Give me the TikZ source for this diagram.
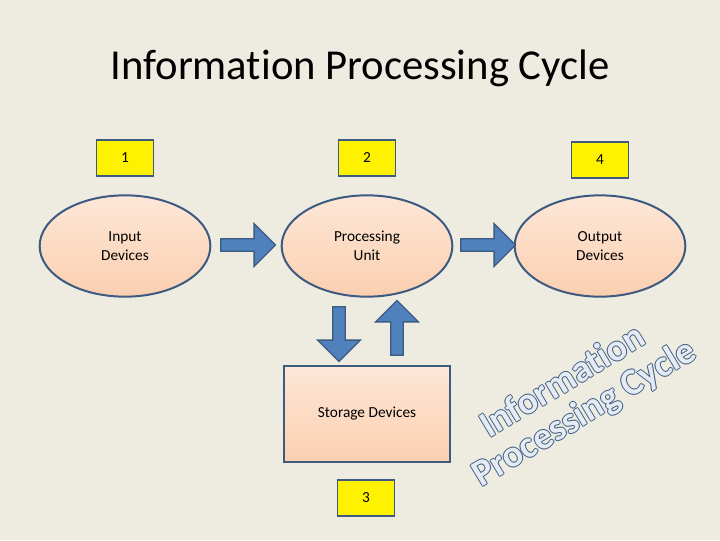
\documentclass[tikz,border=0pt]{standalone}
\usepackage{fontspec}
\setmainfont{Carlito}[Ligatures=NoCommon]
\usetikzlibrary{shapes.arrows,shapes.geometric,calc}
\definecolor{bgcol}{HTML}{EEECE1}
\definecolor{edgecol}{HTML}{3D5A80}
\definecolor{peach}{HTML}{FBCFB0}
\definecolor{arrowcol}{HTML}{4F81BD}
\definecolor{wordart}{HTML}{E4EBF4}
\newcommand{\outlinedtext}[4]{%
  \foreach \dx/\dy in {-1/0,1/0,0/-1,0/1}
    \node[wa, text=edgecol, rotate=#3] at ($(#1,#2)+(\dx,\dy)$) {#4};
  \node[wa, text=wordart, rotate=#3] at (#1,#2) {#4};}
\begin{document}
\begin{tikzpicture}[
      x=0.75pt, y=-0.75pt,
      every node/.style={font=\fontsize{11.5}{14}\selectfont, align=center},
      unit/.style={draw=edgecol, line width=1.5pt, ellipse, minimum width=128pt, minimum height=76pt,
        top color=peach!50, bottom color=peach, inner sep=0pt},
      num/.style={draw=edgecol, line width=1.2pt, fill=yellow, minimum width=43pt, minimum height=27pt, inner sep=0pt},
      blk/.style={single arrow, draw=edgecol, fill=arrowcol, line width=1pt, minimum height=41pt,
        minimum width=32pt, single arrow head extend=6pt, inner sep=2pt},
      wa/.style={font=\fontsize{28}{30}\bfseries\selectfont, inner sep=0pt}
    ]
    \useasboundingbox[fill=bgcol] (0,0) rectangle (720,540);

    \node (title) at (360,68) {\fontsize{32}{36}\selectfont Information Processing Cycle};

    \node[num] (n1) at (125,158) {1};
    \node[num] (n2) at (367,158) {2};
    \node[num] (n4) at (600,160) {4};
    \node[num] (n3) at (366,498) {3};

    \node[unit] (input) at (125,246) {Input\\Devices};
    \node[unit] (proc) at (367,246) {Processing\\Unit};
    \node[unit] (output) at (600,246) {Output\\Devices};
    \node[draw=edgecol, line width=1.5pt, top color=peach!50, bottom color=peach,
      minimum width=124pt, minimum height=72pt] (store) at (367,414) {Storage Devices};

    \node[blk] (a1) at (245,245) {};
    \node[blk] (a2) at (485,245) {};
    \node[blk, rotate=-90] (a3) at (339,331) {};
    \node[blk, rotate=90] (a4) at (397,331) {};

    \outlinedtext{562}{380}{31}{Information}
    \outlinedtext{585}{414}{31}{Processing Cycle}
\end{tikzpicture}
\end{document}
